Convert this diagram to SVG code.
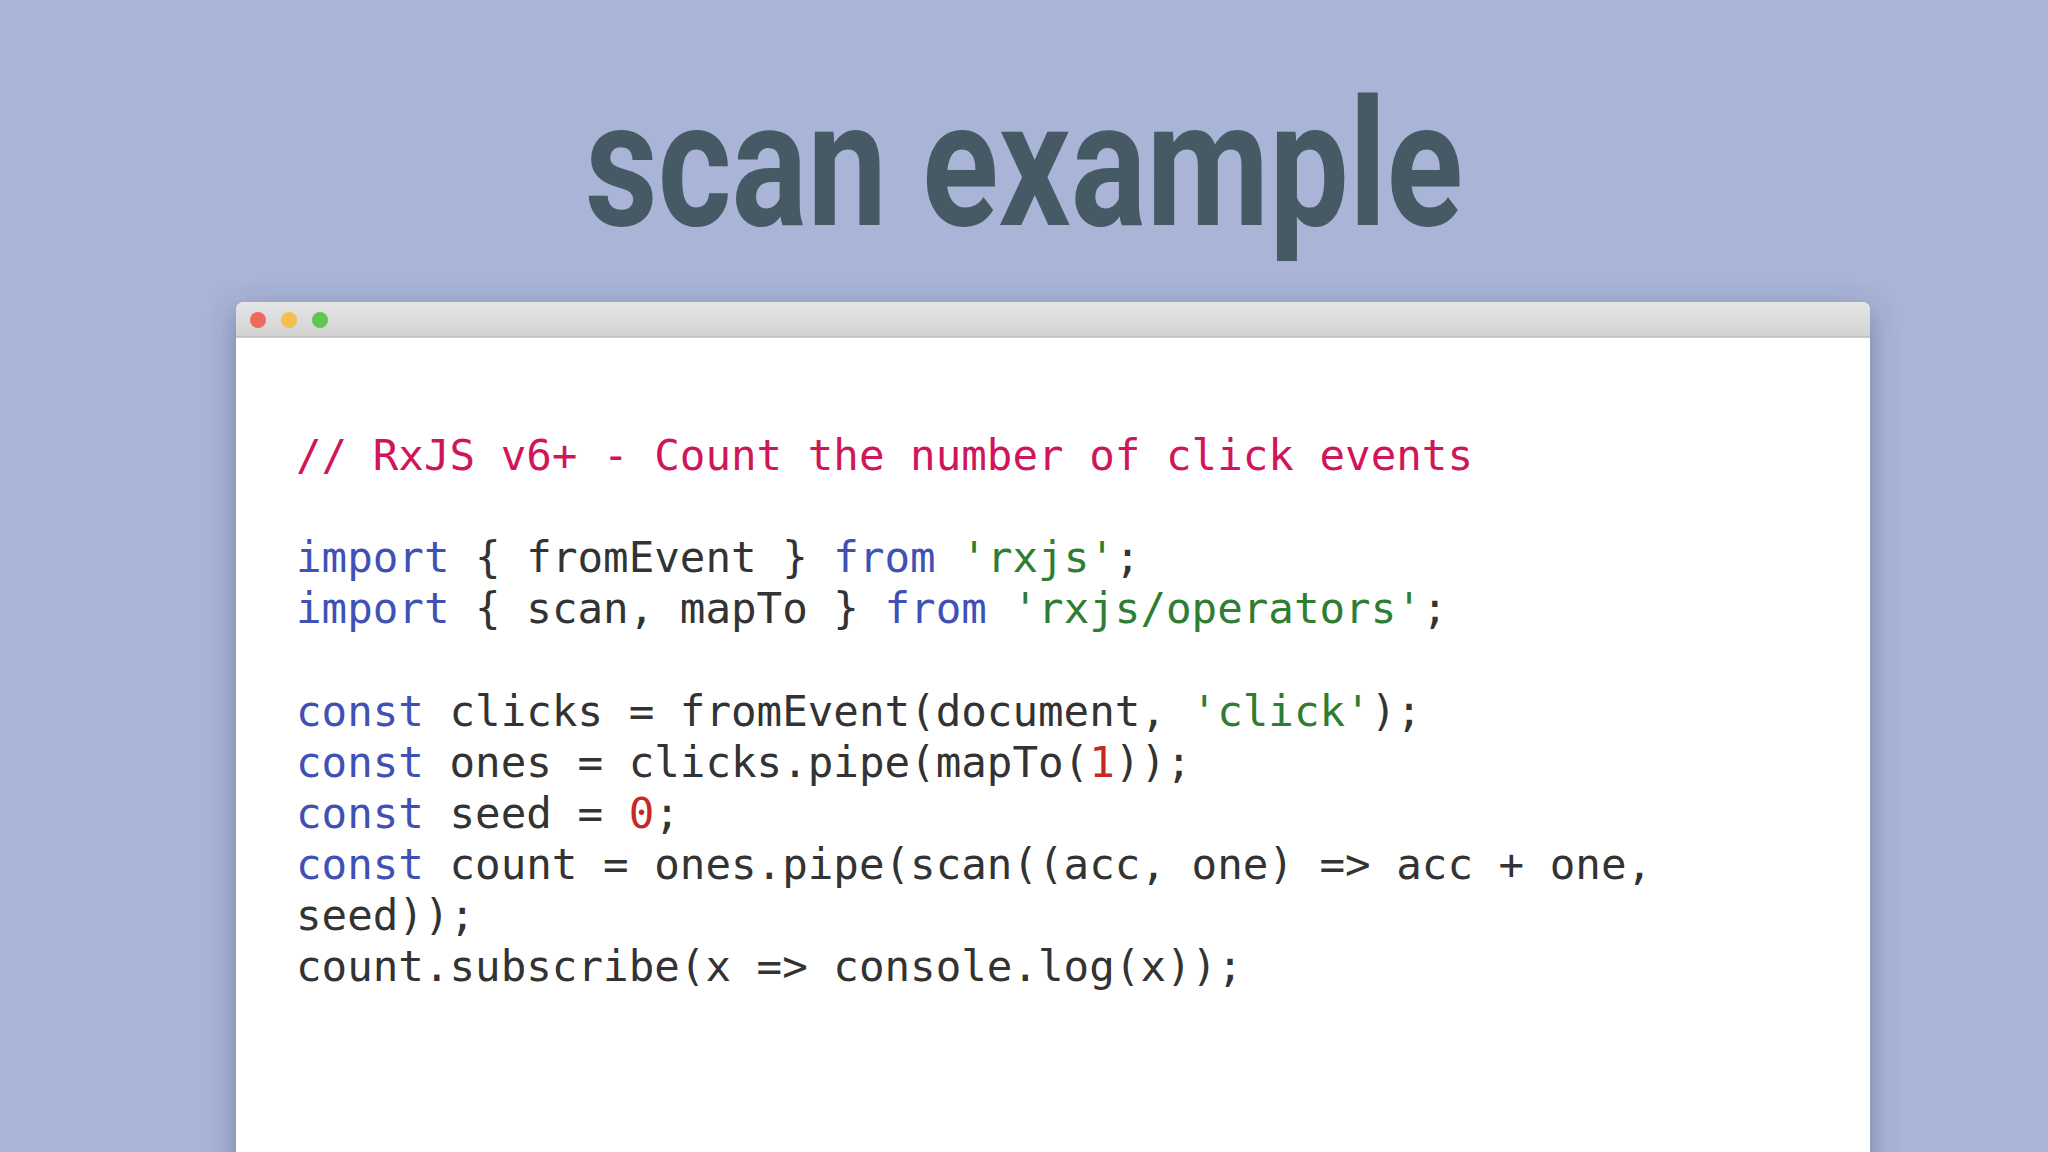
<svg xmlns="http://www.w3.org/2000/svg" width="2048" height="1152" viewBox="0 0 2048 1152">
<defs>
<linearGradient id="bar" x1="0" y1="0" x2="0" y2="1"><stop offset="0" stop-color="#e6e6e6"/><stop offset="1" stop-color="#d2d2d2"/></linearGradient>
<filter id="sh" x="-10%" y="-10%" width="120%" height="130%"><feDropShadow dx="0" dy="8" stdDeviation="14" flood-color="#3a4570" flood-opacity="0.45"/></filter>
</defs>
<style>
.c{font-family:"DejaVu Sans Mono","Liberation Mono",monospace;font-size:42.5px;fill:#333;white-space:pre}
.k{fill:#3f51b5}.s{fill:#2e7d32}.n{fill:#c62828}.cm{fill:#d0165a}
</style>
<rect width="2048" height="1152" fill="#a9b4d6"/>
<text x="1024" y="225" text-anchor="middle" font-family="Roboto,'Liberation Sans',sans-serif" font-weight="bold" font-size="176" fill="#455a64" textLength="878" lengthAdjust="spacingAndGlyphs">scan example</text>
<g id="window">
<rect x="236" y="302" width="1634" height="900" rx="8" fill="#ffffff" filter="url(#sh)"/>
<path d="M236 337 V310 a8 8 0 0 1 8 -8 H1862 a8 8 0 0 1 8 8 V337 Z" fill="url(#bar)"/>
<line x1="236" y1="337" x2="1870" y2="337" stroke="#bdbdbd" stroke-width="1.5"/>
<circle cx="258" cy="320" r="8" fill="#ec6a5e"/>
<circle cx="289" cy="320" r="8" fill="#f4bf4f"/>
<circle cx="320" cy="320" r="8" fill="#61c554"/>
</g>
<g id="code">
<text class="c cm" x="296" y="470">// RxJS v6+ - Count the number of click events</text>
<text class="c" x="296" y="572"><tspan class="k">import</tspan> { fromEvent } <tspan class="k">from</tspan> <tspan class="s">'rxjs'</tspan>;</text>
<text class="c" x="296" y="623"><tspan class="k">import</tspan> { scan, mapTo } <tspan class="k">from</tspan> <tspan class="s">'rxjs/operators'</tspan>;</text>
<text class="c" x="296" y="726"><tspan class="k">const</tspan> clicks = fromEvent(document, <tspan class="s">'click'</tspan>);</text>
<text class="c" x="296" y="777"><tspan class="k">const</tspan> ones = clicks.pipe(mapTo(<tspan class="n">1</tspan>));</text>
<text class="c" x="296" y="828"><tspan class="k">const</tspan> seed = <tspan class="n">0</tspan>;</text>
<text class="c" x="296" y="879"><tspan class="k">const</tspan> count = ones.pipe(scan((acc, one) =&gt; acc + one,</text>
<text class="c" x="296" y="930">seed));</text>
<text class="c" x="296" y="981">count.subscribe(x =&gt; console.log(x));</text>
</g>
</svg>
